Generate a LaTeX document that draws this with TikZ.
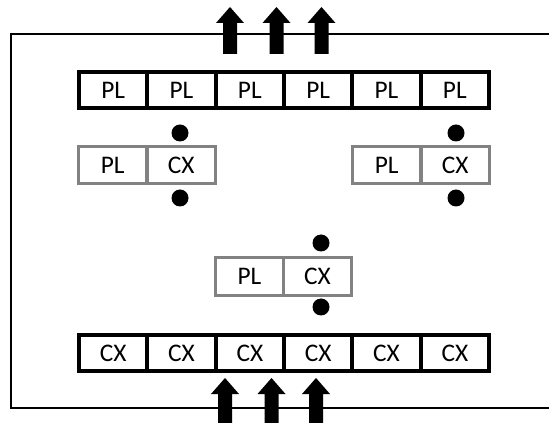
\documentclass[tikz,border=0pt]{standalone}
\usepackage{fontspec}
\setmainfont{Carlito}
\begin{document}
\begin{tikzpicture}[x=0.75pt,y=-0.75pt,
  cell/.style={draw=black, line width=3pt, minimum width=51.25pt, minimum height=27pt,
    inner sep=0pt, outer sep=0pt, font=\fontsize{19}{19}\selectfont},
  gcell/.style={draw=gray!98, line width=2.25pt, minimum width=51.4pt, minimum height=27.75pt,
    inner sep=0pt, outer sep=0pt, font=\fontsize{19}{19}\selectfont},
  dot/.style={circle, fill=black, minimum size=12.75pt, inner sep=0pt},
  frameline/.style={line width=1.5pt},
  uparrow/.pic={\fill (0,0) -- (14,16) -- (7,16) -- (7,47) -- (-7,47) -- (-7,16) -- (-14,16) -- cycle;}
]
\path[use as bounding box, clip] (0,0) rectangle (549,423);
\fill[white] (0,0) rectangle (549,423);

% frame
\coordinate (ftr) at (549,34);
\coordinate (ftl) at (11,34);
\coordinate (fbl) at (11,408);
\coordinate (fbr) at (549,408);
\draw[frameline] (ftr) -- (ftl) -- (fbl) -- (fbr);

% top row
\foreach \i/\x in {1/113.17,2/181.5,3/249.83,4/318.17,5/386.5,6/454.83}
  \node[cell] (t\i) at (\x,90) {PL};

% bottom row
\foreach \i/\x in {1/113.17,2/181.5,3/249.83,4/318.17,5/386.5,6/454.83}
  \node[cell] (b\i) at (\x,353) {CX};

% left pair
\node[gcell] (lp) at (112.75,165) {PL};
\node[gcell] (lc) at (181.25,165) {CX};
\node[dot] (lda) at (180,133) {};
\node[dot] (ldb) at (180,198) {};

% right pair
\node[gcell] (rp) at (386.75,165) {PL};
\node[gcell] (rc) at (455.25,165) {CX};
\node[dot] (rda) at (456,133) {};
\node[dot] (rdb) at (456,198) {};

% middle pair
\node[gcell, minimum height=28.1pt] (mp) at (249.5,276.5) {PL};
\node[gcell, minimum height=28.1pt] (mc) at (317.5,276.5) {CX};
\node[dot] (mda) at (321,243) {};
\node[dot] (mdb) at (321,307) {};

% arrows
\pic at (230,7) {uparrow};
\pic at (276.5,7) {uparrow};
\pic at (321.5,7) {uparrow};
\pic at (225,378) {uparrow};
\pic at (271.5,378) {uparrow};
\pic at (316,378) {uparrow};
\end{tikzpicture}
\end{document}
